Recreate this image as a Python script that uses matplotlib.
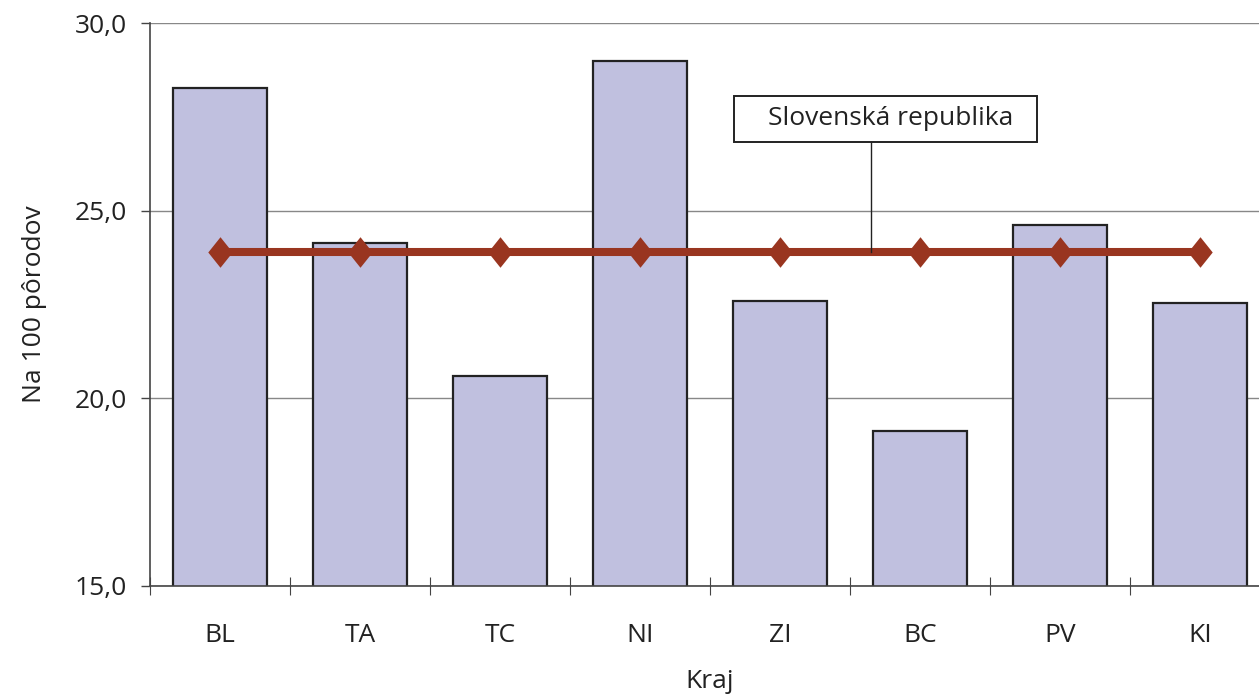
import matplotlib
matplotlib.use("Agg")
import matplotlib.pyplot as plt
from matplotlib.path import Path
from matplotlib.patches import Rectangle

plt.rcParams['font.family'] = ['Open Sans', 'DejaVu Sans']

categories = ["BL", "TA", "TC", "NI", "ZI", "BC", "PV", "KI"]
values = [28.27, 24.13, 20.6, 29.0, 22.6, 19.13, 24.63, 22.54]
sr_value = 23.9
sr_label = "Slovenská republika"
yticks = [15, 20, 25, 30]
ytick_labels = ["15,0", "20,0", "25,0", "30,0"]

FS = 19
TXT = "#222222"

fig = plt.figure(figsize=(12.59, 6.95), dpi=100)
ax = fig.add_axes([150/1259, 1-586/695, 1120/1259, (586-23)/695])

x = list(range(len(categories)))
ax.bar(x, values, width=0.665, color="#C0C0DF", edgecolor="#222222",
       linewidth=1.6, zorder=2)

diamond = Path([(0, 1), (0.8, 0), (0, -1), (-0.8, 0), (0, 1)],
               [Path.MOVETO, Path.LINETO, Path.LINETO, Path.LINETO, Path.CLOSEPOLY])
ax.plot(x, [sr_value]*len(x), color="#993520", linewidth=5.8,
        marker=diamond, markersize=22, markeredgewidth=0, zorder=3,
        solid_capstyle='butt')

ax.set_xlim(-0.5, 7.5)
ax.set_ylim(15, 30)
ax.set_yticks(yticks)
ax.set_yticklabels(ytick_labels)
ax.set_xticks(x)
ax.set_xticklabels(categories)
ax.set_xticks([i + 0.5 for i in range(-1, len(categories))], minor=True)

ax.tick_params(axis='x', which='major', length=0, pad=27, labelsize=FS, labelcolor=TXT)
ax.tick_params(axis='x', which='minor', direction='inout', length=13, width=0.8, color="#444444")
ax.tick_params(axis='y', direction='out', length=6.5, width=1.0, color="#444444",
               pad=10, labelsize=FS, labelcolor=TXT)

ax.yaxis.grid(True, color="#888888", linewidth=1.0, zorder=0)
ax.set_axisbelow(True)
for s in ['top', 'right']:
    ax.spines[s].set_visible(False)
for s in ['left', 'bottom']:
    ax.spines[s].set_color("#444444")
    ax.spines[s].set_linewidth(1.2)

ax.set_xlabel("Kraj", fontsize=FS, color=TXT, labelpad=15)
ax.set_ylabel("Na 100 pôrodov", fontsize=FS, color=TXT, labelpad=20)

# annotation box for the national line
box_x0, box_x1 = 3.671, 5.836
box_y0, box_y1 = 26.83, 28.055
leader_x = 4.65
ax.add_patch(Rectangle((box_x0, box_y0), box_x1 - box_x0, box_y1 - box_y0,
                       facecolor='white', edgecolor='#222222', linewidth=1.4, zorder=4))
ax.text(4.79, (box_y0 + box_y1) / 2, sr_label, ha='center', va='center',
        fontsize=FS, color=TXT, zorder=5)
ax.plot([leader_x, leader_x], [box_y0, sr_value], color='#222222', linewidth=1.0, zorder=4)

fig.savefig("out.png", dpi=100)
